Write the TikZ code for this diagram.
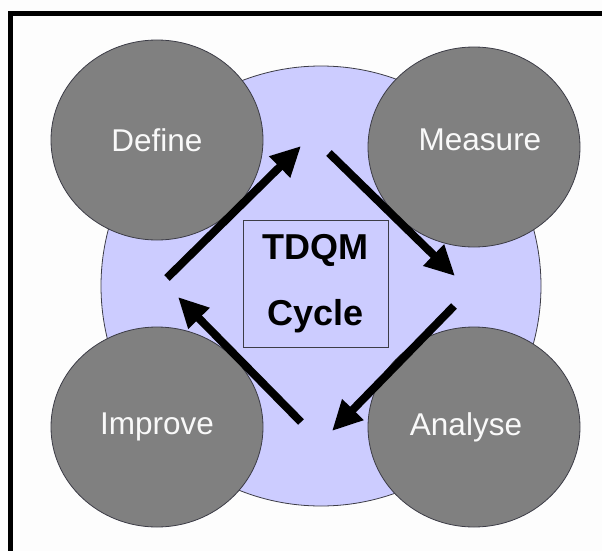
\documentclass[tikz,border=0pt]{standalone}
\usepackage{fontspec}
\setmainfont{Liberation Sans}
\usetikzlibrary{shapes.geometric,arrows.meta}
\definecolor{lav}{RGB}{204,204,255}
\definecolor{stepgray}{RGB}{128,128,128}
\definecolor{edgegray}{RGB}{60,60,70}
\definecolor{bgwhite}{RGB}{253,253,253}
\begin{document}
\begin{tikzpicture}[x=1pt,y=-1pt,
  phase/.style={ellipse,draw=edgegray,line width=0.8pt,fill=stepgray,minimum width=212pt,minimum height=200pt,inner sep=0pt,text=white!95!gray,font=\fontsize{31.5}{36}\selectfont},
  bigarrow/.style={line width=8pt,-{Triangle[length=30pt,width=28pt]}},
  cyclebox/.style={draw=edgegray,line width=0.8pt,minimum width=145pt,minimum height=127pt,inner sep=0pt,align=center,font=\fontsize{36}{66}\selectfont\bfseries}]
\useasboundingbox (0,0) rectangle (602,551);
\clip (0,0) rectangle (602,551);
\fill[bgwhite] (0,0) rectangle (602,551);
\node[circle,draw=edgegray,line width=0.8pt,fill=lav,minimum size=440pt,inner sep=0pt] (hub) at (321,286) {};
\node[phase] (define) at (157,140) {Define};
\node[phase] (measure) at (474,147) {\raisebox{7pt}[\height][\depth]{\hspace*{12pt}Measure}};
\node[phase] (improve) at (157,427) {Improve};
\node[phase] (analyse) at (474,427) {Analyse\hspace*{16pt}};
\node[cyclebox] (tdqm) at (315.5,283.5) {\raisebox{-2pt}{TDQM}\\\raisebox{-2pt}{Cycle}};
\coordinate (a1s) at (167,278);
\coordinate (a1e) at (301,146);
\coordinate (a2s) at (329,153);
\coordinate (a2e) at (455,276);
\coordinate (a3s) at (454,306);
\coordinate (a3e) at (332,431);
\coordinate (a4s) at (301,422);
\coordinate (a4e) at (178,297);
\draw[bigarrow] (a1s) -- (a1e);
\draw[bigarrow] (a2s) -- (a2e);
\draw[bigarrow] (a3s) -- (a3e);
\draw[bigarrow] (a4s) -- (a4e);
\node[draw=black,line width=5pt,minimum width=620pt,minimum height=580pt,anchor=north west,inner sep=0pt] (frame) at (8,11) {};
\end{tikzpicture}
\end{document}
